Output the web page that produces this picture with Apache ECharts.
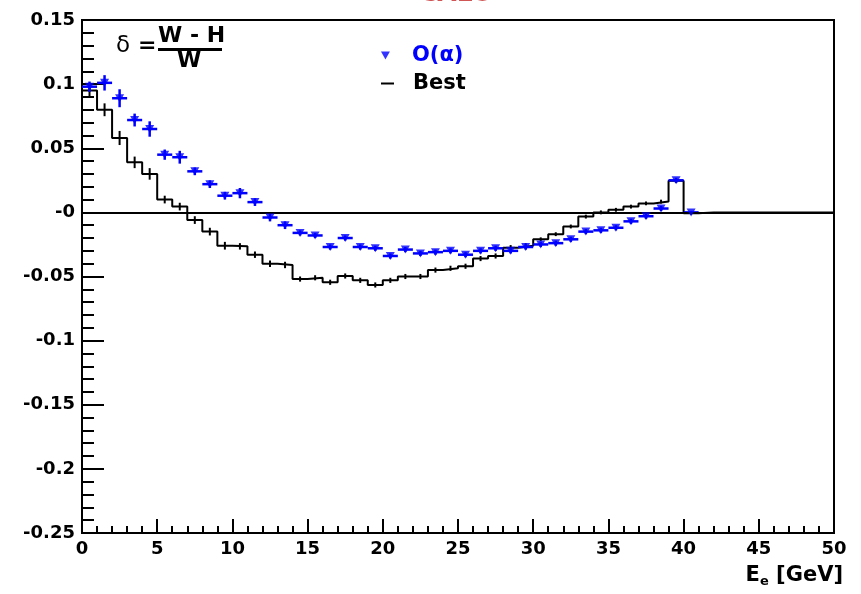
<!DOCTYPE html>
<html>
<head>
<meta charset="utf-8">
<script src="https://cdn.jsdelivr.net/npm/echarts@6/dist/echarts.min.js"></script>
<style>html,body{margin:0;padding:0;background:#fff;}#c{width:861px;height:594px;}</style>
</head>
<body>
<div id="c"></div>
<script>
// Bin width 1 GeV, bins start at 0
const binWidth = 1;
// O(alpha) : bins 0..40
const alphaVals = [0.098,0.101,0.089,0.072,0.065,0.045,0.043,0.032,0.022,0.013,
  0.015,0.008,-0.004,-0.010,-0.016,-0.018,-0.027,-0.020,-0.027,-0.028,
  -0.034,-0.029,-0.032,-0.031,-0.030,-0.033,-0.030,-0.028,-0.030,-0.027,
  -0.025,-0.024,-0.021,-0.015,-0.014,-0.012,-0.007,-0.003,0.003,0.025,0.000];
const alphaErrs = [0.004,0.006,0.007,0.005,0.006,0.004,0.005,0.003,0.003,0.003,
  0.004,0.003,0.003,0.003,0.002,0.002,0.002,0.002,0.002,0.002,
  0.002,0.002,0.002,0.002,0.002,0.002,0.002,0.002,0.002,0.002,
  0.002,0.002,0.002,0.002,0.002,0.002,0.002,0.002,0.002,0.002,0.001];
// Best : bins 0..49
const bestVals = [0.095,0.080,0.058,0.039,0.030,0.010,0.0045,-0.006,-0.015,-0.026,
  -0.0265,-0.033,-0.040,-0.041,-0.052,-0.051,-0.0545,-0.0496,-0.053,-0.0566,
  -0.053,-0.050,-0.050,-0.045,-0.0436,-0.042,-0.036,-0.034,-0.0275,-0.026,
  -0.021,-0.017,-0.011,-0.0033,0.000,0.002,0.0045,0.007,0.0084,0.0247,
  -0.0007,0,0,0,0,0,0,0,0,0];
const bestErrs = [0.0045,0.005,0.0055,0.0045,0.0045,0.003,0.003,0.003,0.003,0.003,
  0.0025,0.0025,0.0025,0.0025,0.002,0.002,0.002,0.002,0.002,0.002,
  0.002,0.002,0.002,0.002,0.002,0.002,0.002,0.002,0.002,0.002,
  0.0015,0.0015,0.0015,0.0015,0.0015,0.0015,0.0015,0.0015,0.0015,0.0015,
  0.001,0,0,0,0,0,0,0,0,0];
const xTicks = [0,5,10,15,20,25,30,35,40,45,50];
const yTicks = [-0.25,-0.2,-0.15,-0.1,-0.05,0,0.05,0.1,0.15];

const FONT = 'DejaVu Sans';
const blue = '#0000ff';
const triPath = 'path://M0,0 L10,0 L5,9 Z';

const alphaPts = alphaVals.map((v,i)=>[(i+0.5)*binWidth, v, alphaErrs[i]]);
const bestErrPts = bestVals.map((v,i)=>[(i+0.5)*binWidth, v, bestErrs[i]]);
const bestStep = [];
bestVals.forEach((v,i)=>{ bestStep.push([i*binWidth, v]); bestStep.push([(i+1)*binWidth, v]); });

const chart = echarts.init(document.getElementById('c'), null, {renderer:'canvas'});
chart.setOption({
  animation:false,
  backgroundColor:'#fff',
  title:{
    text:'CALO', left:456, top:-18, textAlign:'center', padding:0,
    textStyle:{fontFamily:FONT, fontWeight:'bold', fontSize:25, color:'#d05555'}
  },
  grid:{left:82, top:20, right:27, bottom:61, show:true, borderColor:'#000', borderWidth:2, backgroundColor:'transparent'},
  legend:[
    {data:[{name:'O(α)', icon:triPath}], left:376, top:40, itemWidth:9, itemHeight:8,
     textStyle:{fontFamily:FONT, fontWeight:'bold', fontSize:21, color:blue, padding:[0,0,0,17]}, selectedMode:false},
    {data:[{name:'Best', icon:'rect'}], left:376, top:68, itemWidth:13, itemHeight:2,
     textStyle:{fontFamily:FONT, fontWeight:'bold', fontSize:21, color:'#000', padding:[0,0,0,14]}, selectedMode:false}
  ],
  xAxis:{
    type:'value', min:xTicks[0], max:xTicks[xTicks.length-1], interval:5,
    axisLine:{onZero:false, lineStyle:{color:'#000', width:2}},
    axisTick:{inside:true, length:14, lineStyle:{color:'#000', width:2}},
    minorTick:{show:true, splitNumber:5, length:7, lineStyle:{color:'#000', width:2}},
    splitLine:{show:false},
    axisLabel:{fontFamily:FONT, fontWeight:'bold', fontSize:18, color:'#000', margin:7, showMinLabel:true, showMaxLabel:true},
    name:'{b|E}{s|e}{b| [GeV]}', nameLocation:'end', nameGap:9,
    nameTextStyle:{align:'right', verticalAlign:'top', padding:[30,0,0,0],
      rich:{b:{fontFamily:FONT, fontWeight:'bold', fontSize:21, color:'#000'},
            s:{fontFamily:FONT, fontWeight:'bold', fontSize:13, color:'#000', padding:[12,0,0,0]}}}
  },
  yAxis:{
    type:'value', min:yTicks[0], max:yTicks[yTicks.length-1], interval:0.05,
    axisLine:{onZero:false, lineStyle:{color:'#000', width:2}},
    axisTick:{inside:true, length:22, lineStyle:{color:'#000', width:2}},
    minorTick:{show:true, splitNumber:5, length:12, lineStyle:{color:'#000', width:2}},
    splitLine:{show:false},
    axisLabel:{fontFamily:FONT, fontWeight:'bold', fontSize:18, color:'#000', margin:7,
      formatter:function(v){ const r=Math.round(v*100)/100; return r===0?'-0':String(r); }}
  },
  graphic:[
    {type:'text', left:116, top:35, style:{text:'δ', font:'23px "DejaVu Sans"', fill:'#000'}},
    {type:'text', left:138, top:35, style:{text:'=', font:'bold 22px "DejaVu Sans"', fill:'#000'}},
    {type:'text', left:158, top:25, style:{text:'W - H', font:'bold 22px "DejaVu Sans"', fill:'#000'}},
    {type:'rect', shape:{x:158, y:48, width:64, height:3}, style:{fill:'#000'}},
    {type:'text', left:177, top:50, style:{text:'W', font:'bold 22px "DejaVu Sans"', fill:'#000'}}
  ],
  series:[
    {
      name:'Best', type:'line', data:bestStep, symbol:'none', z:3,
      lineStyle:{color:'#000', width:2}, itemStyle:{color:'#000'},
      markLine:{silent:true, symbol:['none','none'], label:{show:false},
        lineStyle:{color:'#000', width:2, type:'solid'}, data:[{yAxis:0}]}
    },
    {
      name:'BestErr', type:'custom', data:bestErrPts, z:3,
      renderItem:function(params, api){
        const x=api.value(0), y=api.value(1), e=api.value(2);
        if(!e) return null;
        const t=api.coord([x,y+e]), b=api.coord([x,y-e]);
        return {type:'line', shape:{x1:t[0],y1:t[1],x2:b[0],y2:b[1]}, style:{stroke:'#000', lineWidth:2}};
      }
    },
    {
      name:'AlphaErr', type:'custom', data:alphaPts, z:4,
      renderItem:function(params, api){
        const x=api.value(0), y=api.value(1), e=api.value(2);
        const l=api.coord([x-0.5*binWidth,y]), r=api.coord([x+0.5*binWidth,y]);
        const t=api.coord([x,y+e]), b=api.coord([x,y-e]);
        return {type:'group', children:[
          {type:'line', shape:{x1:l[0],y1:l[1],x2:r[0],y2:r[1]}, style:{stroke:blue, lineWidth:2.5}},
          {type:'line', shape:{x1:t[0],y1:t[1],x2:b[0],y2:b[1]}, style:{stroke:blue, lineWidth:2.5}}
        ]};
      }
    },
    {
      name:'O(α)', type:'scatter', data:alphaPts.map(p=>[p[0],p[1]]), z:5,
      symbol:triPath, symbolSize:[9,8], itemStyle:{color:blue}
    }
  ]
});
</script>
</body>
</html>
